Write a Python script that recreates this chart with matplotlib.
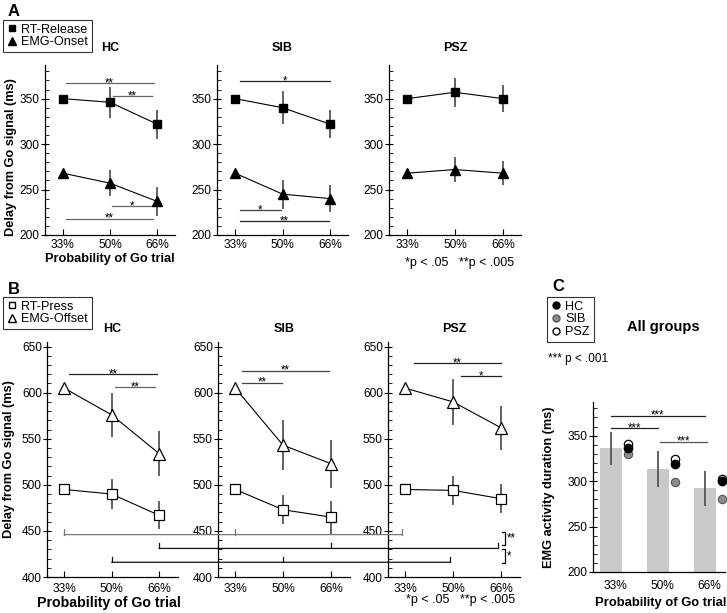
import matplotlib
matplotlib.use('Agg')
import matplotlib.pyplot as plt
from matplotlib.lines import Line2D
from matplotlib.patches import ConnectionPatch
from matplotlib.ticker import MultipleLocator

plt.rcParams['font.family'] = ['Liberation Sans', 'DejaVu Sans']

W, H = 727, 613

probs = ['33%', '50%', '66%']
groups = ['HC', 'SIB', 'PSZ']

# Panel A: hand release / EMG onset (ms), one row per group
rt_release = [[350, 346, 322], [350, 340, 322], [350, 357, 350]]
rt_release_err = [[0, 17, 16], [0, 18, 15], [0, 16, 15]]
emg_onset = [[268, 257, 237], [268, 245, 240], [268, 272, 268]]
emg_onset_err = [[0, 14, 16], [0, 16, 15], [0, 14, 13]]

# Panel B: button press / EMG offset (ms)
rt_press = [[495, 490, 467], [495, 473, 465], [495, 494, 485]]
rt_press_err = [[0, 16, 15], [0, 16, 18], [0, 16, 16]]
emg_offset = [[605, 576, 534], [605, 543, 523], [605, 590, 562]]
emg_offset_err = [[0, 24, 24], [0, 27, 26], [0, 25, 24]]

# Panel C: EMG activity duration (ms)
emg_duration = [336, 313, 292]
emg_duration_err = [18, 20, 19]
dur_hc = [336, 319, 300]
dur_sib = [330, 299, 280]
dur_psz = [341, 324, 302]

# significance bars: (x0, x1, y, label, color)
sig_a = [
    [(0.06, 1.93, 367, '**', '#666'), (1.06, 1.9, 353, '**', '#666'),
     (1.05, 1.9, 232, '*', '#666'), (0.06, 1.92, 218, '**', '#666')],
    [(0.1, 2.0, 369, '*', '#222'), (0.1, 0.96, 227, '*', '#444'),
     (0.1, 1.98, 215, '**', '#222')],
    [],
]
sig_b = [
    [(0.1, 1.96, 620, '**', '#222'), (1.08, 1.92, 606, '**', '#666')],
    [(0.15, 1.96, 624, '**', '#444'), (0.15, 0.98, 611, '**', '#444')],
    [(0.18, 2.0, 632, '**', '#222'), (1.17, 2.0, 618, '*', '#222')],
]
sig_c = [(0, 2, 372, '***', '#222'), (0, 1, 358, '***', '#222'),
         (1.05, 2.05, 343.5, '***', '#555')]

# cross-group comparisons in B: (probability index, y, color)
cross_b = [(0, 446, '#777'), (2, 431, '#111'), (1, 416, '#111')]

fig = plt.figure(figsize=(W / 100, H / 100), dpi=100)


def px_axes(left, top, right, bottom):
    return fig.add_axes([left / W, 1 - bottom / H, (right - left) / W, (bottom - top) / H])


def style_axes(ax, ymin, ymax):
    ax.spines[['top', 'right']].set_visible(False)
    ax.spines[['left', 'bottom']].set_linewidth(0.9)
    ax.set_ylim(ymin, ymax)
    ax.yaxis.set_major_locator(MultipleLocator(50))
    ax.yaxis.set_minor_locator(MultipleLocator(10))
    ax.tick_params(axis='y', which='major', direction='inout', length=5.5, width=0.8,
                   labelsize=8.6, pad=1)
    ax.tick_params(axis='y', which='minor', direction='in', length=2.6, width=0.6)
    ax.tick_params(axis='x', direction='in', length=4, width=0.8, labelsize=8.6, pad=4)
    ax.patch.set_alpha(0)


def sig_bar(ax, x0, x1, y, label, color):
    ax.plot([x0, x1], [y, y], color=color, lw=0.9, clip_on=False)
    ax.annotate(label, ((x0 + x1) / 2, y), xytext=(0, -2.2), textcoords='offset points',
                ha='center', va='baseline', fontsize=8.3)


# ---------------- Panel A ----------------
boxes_a = [(45, 65, 175, 235), (217, 65, 348, 235), (389, 65, 521, 235)]
axes_a = []
for g, box in enumerate(boxes_a):
    ax = px_axes(*box)
    style_axes(ax, 200, 387)
    ax.tick_params(axis='x', pad=3)
    x = range(len(probs))
    ax.errorbar(x, rt_release[g], yerr=rt_release_err[g], color='k', lw=0.8,
                marker='s', ms=6, mfc='k', mec='k', ecolor='#555', elinewidth=1.3)
    ax.errorbar(x, emg_onset[g], yerr=emg_onset_err[g], color='k', lw=0.8,
                marker='^', ms=6.5, mfc='k', mec='k', ecolor='#555', elinewidth=1.3)
    for s in sig_a[g]:
        sig_bar(ax, *s)
    ax.set_xlim(-0.38, 2.38)
    ax.set_xticks(x, probs)
    ax.text(0.5, 1.1, groups[g], transform=ax.transAxes, ha='center', va='center',
            fontsize=9, fontweight='bold')
    axes_a.append(ax)

axes_a[0].set_ylabel('Delay from Go signal (ms)', fontsize=9.2, fontweight='bold')
axes_a[0].yaxis.set_label_coords(-0.215, 0.46)
axes_a[0].set_xlabel('Probability of Go trial', fontsize=9.2, fontweight='bold')
axes_a[0].xaxis.set_label_coords(0.5, -0.105)

# ---------------- Panel B ----------------
boxes_b = [(47, 342, 178, 577), (218, 342, 350, 577), (388, 342, 520, 577)]
axes_b = []
for g, box in enumerate(boxes_b):
    ax = px_axes(*box)
    style_axes(ax, 400, 655)
    x = range(len(probs))
    ax.errorbar(x, rt_press[g], yerr=rt_press_err[g], color='k', lw=0.8,
                marker='s', ms=6.5, mfc='white', mec='k', mew=0.9, ecolor='#555', elinewidth=1.3)
    ax.errorbar(x, emg_offset[g], yerr=emg_offset_err[g], color='k', lw=0.8,
                marker='^', ms=8, mfc='white', mec='k', mew=0.9, ecolor='#555', elinewidth=1.3)
    for s in sig_b[g]:
        sig_bar(ax, *s)
    ax.set_xlim(-0.36, 2.4)
    ax.set_xticks(x, probs)
    ax.text(0.5, 1.055, groups[g], transform=ax.transAxes, ha='center', va='center',
            fontsize=9, fontweight='bold')
    axes_b.append(ax)

axes_b[0].set_ylabel('Delay from Go signal (ms)', fontsize=9.2, fontweight='bold')
axes_b[0].yaxis.set_label_coords(-0.245, 0.5)
axes_b[0].set_xlabel('Probability of Go trial', fontsize=10.2, fontweight='bold')
axes_b[0].xaxis.set_label_coords(0.47, -0.08)

# cross-group lines spanning the three B panels
for i, y, color in cross_b:
    con = ConnectionPatch(xyA=(i, y), coordsA=axes_b[0].transData,
                          xyB=(i - 0.06, y), coordsB=axes_b[2].transData,
                          color=color, lw=0.9)
    fig.add_artist(con)
    for g, ax in enumerate(axes_b):
        xt = i - 0.06 if g == 2 else i
        ax.plot([xt, xt], [y, y + 6], color=color, lw=0.9, clip_on=False)

# right-hand brackets
axp = axes_b[2]
for y_top, y_bot, label in [(449, 435, '**'), (430, 415.5, '*')]:
    axp.plot([2.02, 2.08, 2.08, 2.02], [y_top, y_top, y_bot, y_bot], color='k', lw=0.9,
             clip_on=False)
    axp.text(2.12, (y_top + y_bot) / 2, label, ha='left', va='center', fontsize=8.3)

# ---------------- Panel C ----------------
axc = px_axes(593, 402, 725, 572)
style_axes(axc, 200, 387)
xc = range(len(probs))
axc.bar(xc, emg_duration, width=0.48, color='#c9c9c9', zorder=1)
axc.errorbar(xc, emg_duration, yerr=emg_duration_err, fmt='none', ecolor='#555',
             elinewidth=1.3, zorder=2)
xd = [v + 0.37 for v in xc]
axc.plot(xd, dur_sib, 'o', ms=6, mfc='#8c8c8c', mec='#555', mew=0.8, ls='none',
         clip_on=False, zorder=3)
axc.plot(xd, dur_psz, 'o', ms=6, mfc='white', mec='k', mew=0.9, ls='none',
         clip_on=False, zorder=4)
axc.plot(xd, dur_hc, 'o', ms=6, mfc='k', mec='k', ls='none', clip_on=False, zorder=5)
for s in sig_c:
    sig_bar(axc, *s)
axc.set_xlim(-0.38, 2.43)
axc.set_xticks([v + 0.1 for v in xc], probs)
axc.tick_params(axis='x', length=0, pad=6)
axc.set_ylabel('EMG activity duration (ms)', fontsize=9.2, fontweight='bold')
axc.yaxis.set_label_coords(-0.29, 0.5)
axc.set_xlabel('Probability of Go trial', fontsize=9.4, fontweight='bold')
axc.xaxis.set_label_coords(0.51, -0.145)

# ---------------- legends and labels ----------------
leg_kw = dict(loc='upper left', frameon=True, fancybox=False, edgecolor='k',
              fontsize=9.1, handlelength=0.8, handletextpad=0.35, labelspacing=0.05,
              borderpad=0.3, borderaxespad=0)
leg_a = fig.legend([Line2D([], [], ls='none', marker='s', ms=5, color='k'),
                    Line2D([], [], ls='none', marker='^', ms=5.5, color='k')],
                   ['RT-Release', 'EMG-Onset'],
                   bbox_to_anchor=(3 / W, 1 - 20 / H), **leg_kw)
leg_a.get_frame().set_linewidth(0.8)
leg_b = fig.legend([Line2D([], [], ls='none', marker='s', ms=5, mfc='white', mec='k'),
                    Line2D([], [], ls='none', marker='^', ms=5.5, mfc='white', mec='k')],
                   ['RT-Press', 'EMG-Offset'],
                   bbox_to_anchor=(3 / W, 1 - 297 / H), **leg_kw)
leg_b.get_frame().set_linewidth(0.8)
leg_c = fig.legend([Line2D([], [], ls='none', marker='o', ms=5, color='k'),
                    Line2D([], [], ls='none', marker='o', ms=5, mfc='#8c8c8c', mec='#555'),
                    Line2D([], [], ls='none', marker='o', ms=5, mfc='white', mec='k')],
                   ['HC', 'SIB', 'PSZ'],
                   bbox_to_anchor=(547 / W, 1 - 297 / H), **leg_kw)
leg_c.get_frame().set_linewidth(0.8)

fig.text(8 / W, 1 - 12 / H, 'A', fontsize=12, fontweight='bold', va='center')
fig.text(8 / W, 1 - 290 / H, 'B', fontsize=12, fontweight='bold', va='center')
fig.text(552 / W, 1 - 287 / H, 'C', fontsize=12, fontweight='bold', va='center')

fig.text(460 / W, 1 - 263 / H, '*p < .05   **p < .005', fontsize=9, ha='center', va='center')
fig.text(461 / W, 1 - 600 / H, '*p < .05   **p < .005', fontsize=9, ha='center', va='center')
fig.text(663 / W, 1 - 327 / H, 'All groups', fontsize=10.5, fontweight='bold',
         ha='center', va='center')
fig.text(548 / W, 1 - 359 / H, '*** p < .001', fontsize=8.5, ha='left', va='center')

fig.savefig('out.png', dpi=100)
